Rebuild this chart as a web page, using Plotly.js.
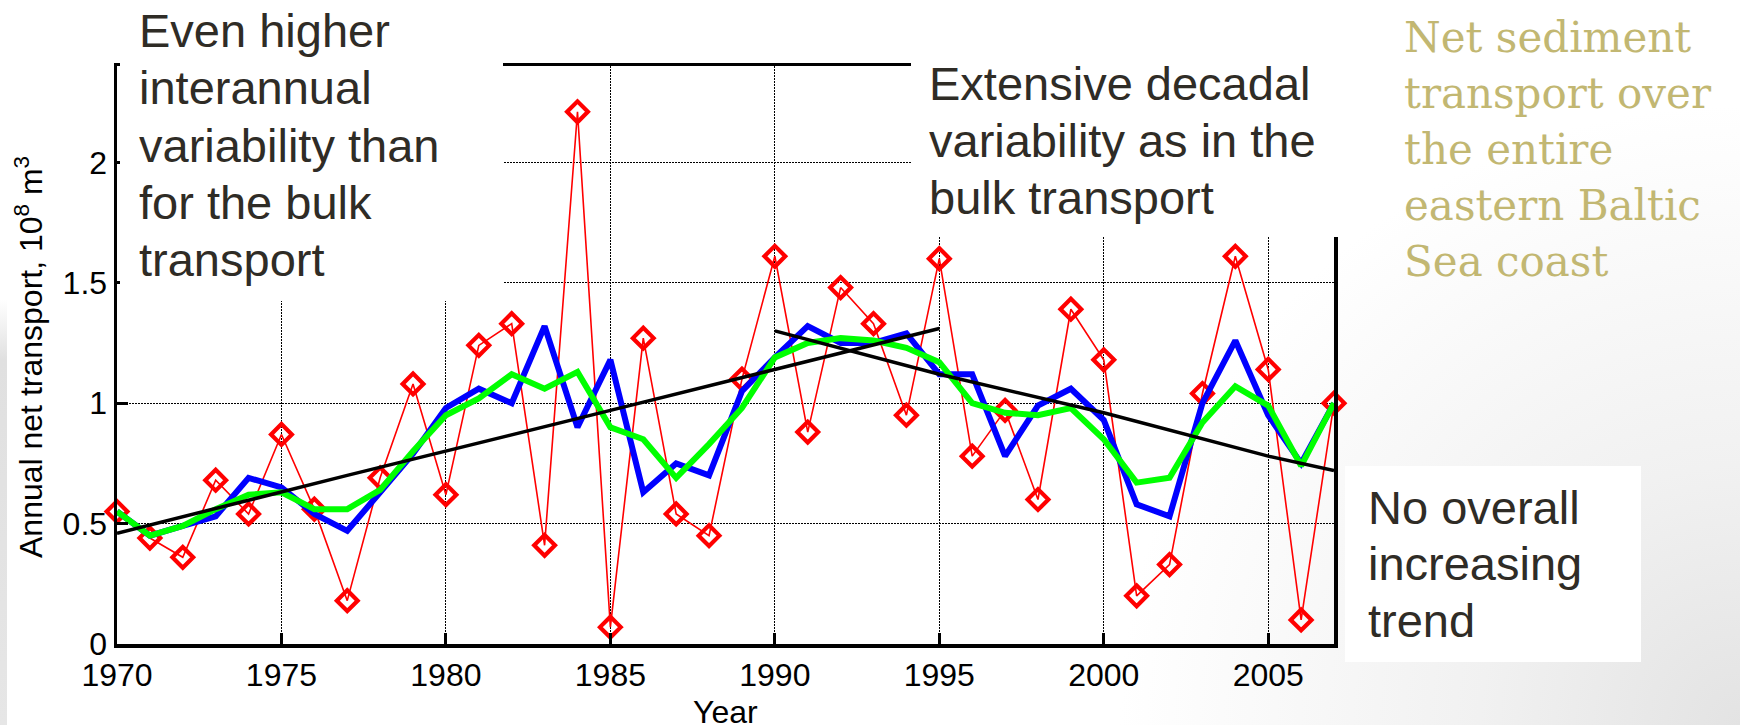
<!DOCTYPE html>
<html><head><meta charset="utf-8">
<script src="https://cdn.plot.ly/plotly-3.0.1.min.js"></script>
<style>
html,body{margin:0;padding:0;}
body{width:1740px;height:725px;overflow:hidden;position:relative;
  background:radial-gradient(circle at 100% 100%, #e3e3e3 0px, #f1f1f1 260px, #ffffff 620px);}
#strip{position:absolute;left:0;top:300px;width:7px;height:425px;
  background:linear-gradient(to bottom, rgba(224,224,224,0), #e0e0e0 60px, #e6e6e6);}
#chart{position:absolute;left:0;top:0;width:1740px;height:725px;}
</style></head>
<body><div id="strip"></div><div id="chart"></div>
<script>
// ---------------- data ----------------
const years = [1970,1971,1972,1973,1974,1975,1976,1977,1978,1979,1980,1981,1982,1983,1984,1985,1986,1987,1988,1989,1990,1991,1992,1993,1994,1995,1996,1997,1998,1999,2000,2001,2002,2003,2004,2005,2006,2007];
const annual = [0.55,0.44,0.36,0.68,0.54,0.87,0.56,0.18,0.69,1.08,0.62,1.24,1.33,0.41,2.21,0.07,1.27,0.54,0.45,1.10,1.61,0.88,1.48,1.33,0.95,1.60,0.78,0.97,0.60,1.39,1.18,0.20,0.33,1.04,1.61,1.14,0.10,1.00];
const mean3 = [0.55,0.45,0.49,0.53,0.69,0.65,0.54,0.47,0.63,0.79,0.98,1.06,1.00,1.32,0.90,1.18,0.63,0.75,0.70,1.05,1.19,1.32,1.25,1.25,1.29,1.12,1.12,0.78,0.99,1.06,0.93,0.58,0.53,1.00,1.26,0.95,0.75,1.00];
const mean5 = [0.55,0.45,0.49,0.56,0.62,0.63,0.56,0.56,0.64,0.80,0.95,1.02,1.12,1.06,1.13,0.90,0.85,0.69,0.83,0.98,1.19,1.25,1.27,1.26,1.23,1.17,1.00,0.96,0.95,0.98,0.85,0.67,0.69,0.92,1.07,0.99,0.74,1.00];
const trend1Years = [1970,1977,1985,1990,1995];
const trend1Values = [0.46,0.70,0.97,1.14,1.31];
const trend2Years = [1990,1995,2000,2005,2007];
const trend2Values = [1.30,1.12,0.96,0.78,0.72];
const xTickVals = [1970,1975,1980,1985,1990,1995,2000,2005];
const yTickVals = [0,0.5,1,1.5,2];
const leftNote = ["Even higher","interannual","variability than","for the bulk","transport"];
const midNote = ["Extensive decadal","variability as in the","bulk transport"];
const lowNote = ["No overall","increasing","trend"];
const titleLines = ["Net sediment","transport over","the entire","eastern Baltic","Sea coast"];
const yTitle = "Annual net transport, 10<sup>8</sup> m<sup>3</sup>";
const xTitle = "Year";

// ---------------- layout helpers ----------------
const W = 1740, H = 725;
const M = {l:117, r:406, t:66, b:81};
const PW = W - M.l - M.r, PH = H - M.t - M.b;
const px = x => (x - M.l) / PW;
const py = y => (H - M.b - y) / PH;
const SANS = "Liberation Sans, Arial, sans-serif";
const SERIF = "DejaVu Serif, serif";
const textColor = "#2f2c26";

function lineAnns(lines, xLeft, base0, step, size, family, color, centerK) {
  return lines.map((t, i) => ({
    xref:'paper', yref:'paper', showarrow:false, borderpad:0,
    x: px(xLeft), y: py(base0 + i*step - centerK*size),
    xanchor:'left', yanchor:'middle', align:'left',
    text: t, font:{family:family, size:size, color:color}
  }));
}

const annotations = [].concat(
  lineAnns(leftNote, 138, 47, 57.25, 47, SANS, textColor, 0.3465),
  lineAnns(midNote, 928, 100, 56.7, 47, SANS, textColor, 0.3465),
  lineAnns(lowNote, 1367, 523.5, 56.6, 47, SANS, textColor, 0.3465),
  lineAnns(titleLines, 1403, 51.7, 56.1, 42, SERIF, "#c2b772", 0.346),
  [{
    xref:'paper', yref:'paper', showarrow:false, borderpad:0,
    x: px(725.5), y: py(712), xanchor:'center', yanchor:'middle',
    text: xTitle, font:{family:SANS, size:32, color:'#000'}
  },{
    xref:'paper', yref:'paper', showarrow:false, borderpad:0, textangle:-90,
    x: px(29), y: py(357), xanchor:'center', yanchor:'middle',
    text: yTitle, font:{family:SANS, size:32, color:'#000'}
  }]
);

const white = {type:'rect', xref:'paper', yref:'paper', layer:'above', fillcolor:'#ffffff', line:{width:0}};
const shapes = [
  Object.assign({}, white, {x0:px(120), x1:px(503), y0:py(301), y1:py(-5)}),
  Object.assign({}, white, {x0:px(911), x1:px(1352), y0:py(237), y1:py(-5)}),
  Object.assign({}, white, {x0:px(1345), x1:px(1641), y0:py(662), y1:py(466)})
];

const axisCommon = {
  ticks:'inside', ticklen:11, tickwidth:3, tickcolor:'#000',
  showline:true, linewidth:3.5, linecolor:'#000', mirror:true,
  showgrid:true, gridcolor:'#000', gridwidth:1, griddash:'2px,1px',
  zeroline:false, tickfont:{family:SANS, size:32, color:'#000'}
};

const traces = [
  {x:years, y:annual, type:'scatter', mode:'lines+markers', cliponaxis:false,
   line:{color:'#ff0000', width:1.6},
   marker:{symbol:'diamond-open', size:16, color:'#ff0000', line:{width:4.2, color:'#ff0000'}}},
  {x:years, y:mean3, type:'scatter', mode:'lines', line:{color:'#0000ff', width:6}},
  {x:years, y:mean5, type:'scatter', mode:'lines', line:{color:'#00ff00', width:6}},
  {x:trend1Years, y:trend1Values, type:'scatter', mode:'lines', line:{color:'#000', width:3.5}},
  {x:trend2Years, y:trend2Values, type:'scatter', mode:'lines', line:{color:'#000', width:3.5}}
];

const layout = {
  width:W, height:H, margin:M, showlegend:false,
  paper_bgcolor:'rgba(0,0,0,0)', plot_bgcolor:'rgba(0,0,0,0)',
  xaxis: Object.assign({}, axisCommon, {range:[1970,2007], tickvals:xTickVals, ticktext:xTickVals.map(String)}),
  yaxis: Object.assign({}, axisCommon, {range:[0,2.4], tickvals:yTickVals, ticktext:['0','0.5','1','1.5','2']}),
  annotations: annotations, shapes: shapes
};

Plotly.newPlot('chart', traces, layout, {staticPlot:true, displayModeBar:false});
</script></body></html>
